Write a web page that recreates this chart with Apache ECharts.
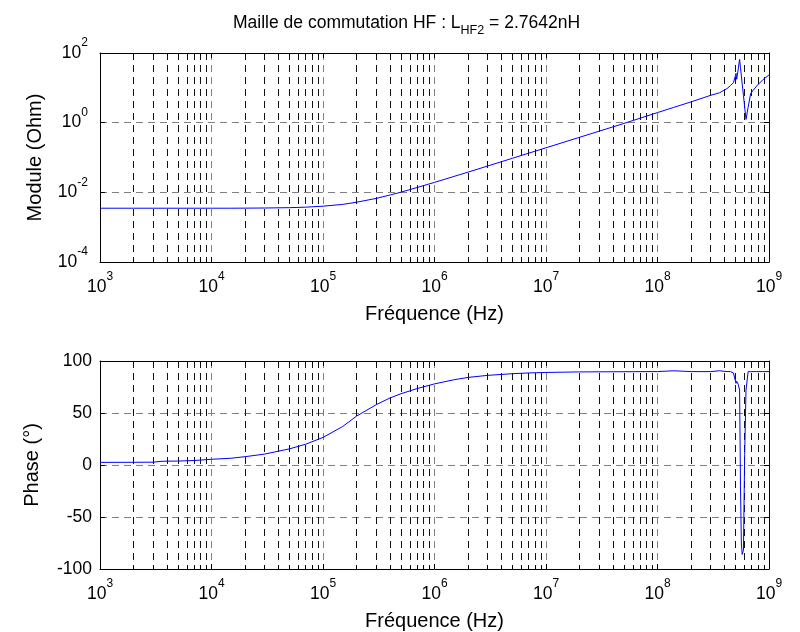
<!DOCTYPE html>
<html><head><meta charset="utf-8">
<script src="https://cdn.jsdelivr.net/npm/echarts@6/dist/echarts.min.js"></script>
<style>html,body{margin:0;padding:0;background:#fff}#c{width:800px;height:632px}</style>
</head><body><div id="c"></div>
<script>
// ---- data ----
const titleMain = 'Maille de commutation HF : L';
const titleSub = 'HF2';
const titleEnd = ' = 2.7642nH';
const xName = 'Fréquence (Hz)';
const yNameTop = 'Module (Ohm)';
const yNameBottom = 'Phase (°)';

const freqHz = [1e3, 2e3, 3e3, 3.6e3, 5e3, 7e3, 1e4, 1.5e4, 2e4, 3e4, 5e4, 7e4,
  1e5, 1.5e5, 2e5, 3e5, 4e5, 5e5, 7e5, 1e6, 1.5e6, 2e6, 3e6, 5e6, 7e6, 1e7, 2e7, 5e7,
  1e8, 1.4e8, 2e8, 3e8, 3.6e8, 4.2e8, 4.5e8, 4.8e8, 5.06e8, 5.13e8, 5.3e8, 5.45e8,
  5.55e8, 5.65e8, 5.75e8, 5.9e8, 6.05e8, 6.22e8, 6.5e8, 6.85e8, 7.75e8, 8.8e8, 1e9];

const moduleOhm = [3.5e-3, 3.5e-3, 3.5e-3, 3.5e-3, 3.5e-3, 3.5e-3, 3.5e-3, 3.5e-3, 3.52e-3, 3.55e-3, 3.63e-3, 3.75e-3,
  4.0e-3, 4.5e-3, 5.2e-3, 6.7e-3, 8.4e-3, 1.01e-2, 1.38e-2, 1.93e-2, 2.87e-2, 3.8e-2, 5.7e-2, 9.5e-2, 0.133, 0.19, 0.38, 0.95,
  1.95, 2.75, 3.95, 6.1, 7.2, 9.5, 11.5, 14, 26, 17.6, 35, 66,
  38, 22, 13, 6.1, 2.8, 1.24, 2.75, 6.9, 11.3, 17, 23.5];

const phaseDeg = [2.5, 2.6, 2.7, 3.6, 3.8, 4.3, 5.5, 6.5, 8, 10.5, 15.5, 20,
  26.5, 37, 47, 58, 64.5, 68.5, 73.5, 78, 82, 84.2, 86.2, 87.8, 88.5, 89, 89.5, 89.7,
  89.8, 90.6, 89.8, 89.8, 90.6, 89.8, 89.8, 88.5, 78.5, 80.5, 77.5, 72,
  -20, -75, -86, -82, 10, 72, 89.8, 89.8, 89.8, 89.8, 89.8];

const xMin = 1e3, xMax = 1e9;
const magMin = 1e-4, magMax = 1e2;
const phaseMin = -100, phaseMax = 100, phaseStep = 50;

// ---- chart ----
const FONT = '"Liberation Sans", Arial, Helvetica, sans-serif';
const rich = {
  b: { fontSize: 17.5, fontFamily: FONT, color: '#000', lineHeight: 32 },
  s: { fontSize: 12, fontFamily: FONT, color: '#000', lineHeight: 12, verticalAlign: 'top' }
};
function supLabel(v) {
  const e = Math.round(Math.log10(v));
  return '{b|10}{s|' + e + '}';
}
const grids = [
  { left: 100, right: 31, top: 53, height: 209 },
  { left: 100, right: 31, top: 361, height: 208 }
];
const black = { color: '#000', width: 1 };
const dashMajor = { color: '#808080', width: 1, type: [7, 5] };
const dashMinor = { color: '#111', width: 1, type: [7, 5] };

function xBottom(gi) {
  return {
    type: 'log', logBase: 10, gridIndex: gi, min: xMin, max: xMax, interval: 1, position: 'bottom',
    axisLine: { show: true, onZero: false, lineStyle: black },
    axisTick: { show: true, inside: true, length: 5, lineStyle: black },
    minorTick: { show: true, splitNumber: 9, length: 3, lineStyle: black },
    axisLabel: { formatter: supLabel, rich: rich, margin: 9 },
    splitLine: { show: true, lineStyle: dashMajor },
    minorSplitLine: { show: true, lineStyle: dashMinor },
    name: xName, nameLocation: 'middle', nameGap: 42,
    nameTextStyle: { fontSize: 20, fontFamily: FONT, color: '#000' }
  };
}
function xTop(gi) {
  return {
    type: 'log', logBase: 10, gridIndex: gi, min: xMin, max: xMax, interval: 1, position: 'top',
    axisLine: { show: true, onZero: false, lineStyle: black },
    axisTick: { show: true, inside: true, length: 5, lineStyle: black },
    minorTick: { show: true, splitNumber: 9, length: 3, lineStyle: black },
    axisLabel: { show: false }, splitLine: { show: false }
  };
}
function yRight(gi, base) {
  return Object.assign({}, base, {
    gridIndex: gi, position: 'right', name: '',
    axisLabel: { show: false }, splitLine: { show: false }
  });
}
const yTopBase = {
  type: 'log', logBase: 10, min: magMin, max: magMax, interval: 2,
  axisLine: { show: true, onZero: false, lineStyle: black },
  axisTick: { show: true, inside: true, length: 5, lineStyle: black }
};
const yBotBase = {
  type: 'value', min: phaseMin, max: phaseMax, interval: phaseStep,
  axisLine: { show: true, onZero: false, lineStyle: black },
  axisTick: { show: true, inside: true, length: 5, lineStyle: black }
};

const chart = echarts.init(document.getElementById('c'), null, { renderer: 'canvas' });
chart.setOption({
  animation: false,
  backgroundColor: '#fff',
  title: {
    text: '{t|' + titleMain + '}{sub|' + titleSub + '}{t|' + titleEnd + '}',
    left: 228, top: 5,
    textStyle: {
      fontWeight: 'normal',
      rich: {
        t: { fontSize: 17.5, fontFamily: FONT, fontWeight: 'normal', color: '#000', lineHeight: 27 },
        sub: { fontSize: 12.5, fontFamily: FONT, fontWeight: 'normal', color: '#000', lineHeight: 12, verticalAlign: 'bottom' }
      }
    }
  },
  grid: grids,
  xAxis: [xBottom(0), xTop(0), xBottom(1), xTop(1)],
  yAxis: [
    Object.assign({}, yTopBase, {
      gridIndex: 0, position: 'left',
      axisLabel: { formatter: supLabel, rich: rich, margin: 12 },
      splitLine: { show: true, lineStyle: dashMajor },
      name: yNameTop, nameLocation: 'middle', nameGap: 55,
      nameTextStyle: { fontSize: 20, fontFamily: FONT, color: '#000' }
    }),
    yRight(0, yTopBase),
    Object.assign({}, yBotBase, {
      gridIndex: 1, position: 'left',
      axisLabel: { fontSize: 17.5, fontFamily: FONT, color: '#000', margin: 8 },
      splitLine: { show: true, lineStyle: dashMajor },
      name: yNameBottom, nameLocation: 'middle', nameGap: 58,
      nameTextStyle: { fontSize: 20, fontFamily: FONT, color: '#000' }
    }),
    yRight(1, yBotBase)
  ],
  series: [
    {
      type: 'line', xAxisIndex: 0, yAxisIndex: 0, showSymbol: false, z: 10,
      lineStyle: { color: '#0000ff', width: 1 },
      data: freqHz.map((f, i) => [f, moduleOhm[i]])
    },
    {
      type: 'line', xAxisIndex: 2, yAxisIndex: 2, showSymbol: false, z: 10,
      lineStyle: { color: '#0000ff', width: 1 },
      data: freqHz.map((f, i) => [f, phaseDeg[i]])
    }
  ]
});
</script>
</body></html>
